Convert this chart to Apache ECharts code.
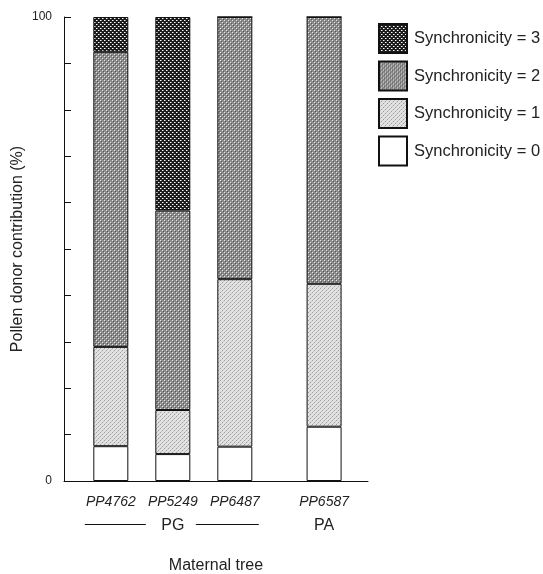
<!DOCTYPE html>
<html>
<head>
<meta charset="utf-8">
<script src="https://cdn.jsdelivr.net/npm/echarts@6/dist/echarts.min.js"></script>
<style>
  html, body { margin: 0; padding: 0; background: #fff; }
  #chart { width: 543px; height: 574px; }
</style>
</head>
<body>
<div id="chart"></div>
<script>
// maternal trees, their position along the x axis and their species group
var trees = ['PP4762', 'PP5249', 'PP6487', 'PP6587'];
var treePos = [1, 2, 3, 4.44];
var groupNames = ['PG', 'PA'];
var groupOf = [0, 0, 0, 1];

// pollen donor contribution (%) by synchronicity class
var sync0 = [7.5, 5.8, 7.4, 11.7];
var sync1 = [21.4, 9.5, 36.1, 30.8];
var sync2 = [63.6, 43.0, 56.5, 57.5];
var sync3 = [7.5, 41.7, 0, 0];

var seriesNames = ['Synchronicity = 0', 'Synchronicity = 1', 'Synchronicity = 2', 'Synchronicity = 3'];
var yTicks = [0, 100];

// small stipple patterns like the printed figure
function pattern(bg, dots) {
  var c = document.createElement('canvas');
  c.width = 4; c.height = 4;
  var ctx = c.getContext('2d');
  ctx.fillStyle = bg;
  ctx.fillRect(0, 0, 4, 4);
  dots.forEach(function(d) {
    ctx.fillStyle = d[2];
    ctx.fillRect(d[0], d[1], 1, 1);
  });
  return { image: c, repeat: 'repeat' };
}

var fills = [
  '#ffffff',
  pattern('#e2e2e2', [[0, 0, '#9c9c9c'], [2, 2, '#9c9c9c'], [1, 3, '#c4c4c4'], [3, 1, '#c4c4c4']]),
  pattern('#8c8c8c', [[0, 0, '#e8e8e8'], [2, 2, '#e8e8e8'], [1, 1, '#5a5a5a'], [3, 3, '#5a5a5a']]),
  pattern('#1c1c1c', [[0, 0, '#ffffff'], [2, 2, '#ffffff'], [1, 0, '#8a8a8a'], [3, 2, '#8a8a8a']])
];

var font = '"Liberation Sans", Arial, Helvetica, sans-serif';
var ink = '#222222';

function pairs(vals) {
  return vals.map(function(v, i) { return [treePos[i], v]; });
}

var chart = echarts.init(document.getElementById('chart'), null, { renderer: 'canvas' });

var series = [sync0, sync1, sync2, sync3].map(function(vals, k) {
  var s = {
    name: seriesNames[k], type: 'bar', stack: 'total', data: pairs(vals),
    barWidth: 35,
    itemStyle: { color: fills[k], borderColor: '#111', borderWidth: 1 },
    emphasis: { disabled: true }
  };
  if (k === 0) {
    s.label = {
      show: true, position: 'bottom', distance: 14,
      color: ink, fontSize: 14, fontStyle: 'italic', fontFamily: font,
      formatter: function(p) { return trees[p.dataIndex]; }
    };
  }
  return s;
});

chart.setOption({
  animation: false,
  textStyle: { fontFamily: font },
  grid: { left: 64, right: 175, top: 17, bottom: 93, containLabel: false, outerBoundsMode: 'none' },
  legend: {
    orient: 'vertical', left: 378, top: 23, padding: 0,
    itemWidth: 28, itemHeight: 29, itemGap: 6.5,
    icon: 'rect',
    data: seriesNames.slice().reverse(),
    textStyle: { color: ink, fontSize: 16.5, fontFamily: font, padding: [0, 0, 0, 2] }
  },
  // time-typed axis used only as a plain numeric position axis, so stacking is done on y;
  // the bar overflow padding ECharts adds widens this range a little
  xAxis: {
    type: 'time', min: 0.527, max: 4.866,
    name: 'Maternal tree', nameLocation: 'middle', nameGap: 77, nameMoveOverlap: false,
    nameTextStyle: { color: ink, fontSize: 16, fontFamily: font },
    axisLine: { show: true, onZero: false, lineStyle: { color: '#111', width: 1 } },
    axisTick: { show: false }, axisLabel: { show: false }, splitLine: { show: false }
  },
  yAxis: {
    type: 'value', min: 0, max: 100, interval: 10,
    name: 'Pollen donor contribution (%)', nameLocation: 'middle', nameGap: 38, nameMoveOverlap: false,
    nameTextStyle: { color: ink, fontSize: 16, fontFamily: font },
    axisLine: { show: true, lineStyle: { color: '#111', width: 1 } },
    axisTick: { show: true, inside: true, length: 7, lineStyle: { color: '#111' } },
    axisLabel: {
      color: ink, fontSize: 12, margin: 12, fontFamily: font,
      formatter: function(v) { return yTicks.indexOf(v) >= 0 ? String(v) : ''; }
    },
    splitLine: { show: false }
  },
  series: series
});

// group labels under the tree names (PG with side rules, PA)
function drawGroups() {
  var els = [];
  var yRow = 526;
  groupNames.forEach(function(g, gi) {
    var idx = [];
    groupOf.forEach(function(v, i) { if (v === gi) idx.push(i); });
    var first = chart.convertToPixel({ xAxisIndex: 0 }, treePos[idx[0]]);
    var last = chart.convertToPixel({ xAxisIndex: 0 }, treePos[idx[idx.length - 1]]);
    var mid = (first + last) / 2;
    els.push({
      type: 'text', x: mid, y: yRow,
      style: { text: g, fill: ink, fontSize: 16, fontFamily: font, align: 'center', verticalAlign: 'middle' }
    });
    if (idx.length > 1) {
      els.push({ type: 'line', shape: { x1: first - 26, y1: yRow - 1.5, x2: mid - 27, y2: yRow - 1.5 }, style: { stroke: '#111', lineWidth: 1 } });
      els.push({ type: 'line', shape: { x1: mid + 23, y1: yRow - 1.5, x2: last + 24, y2: yRow - 1.5 }, style: { stroke: '#111', lineWidth: 1 } });
    }
  });
  chart.setOption({ graphic: { elements: els } });
}
drawGroups();
window.addEventListener('resize', function() { chart.resize(); drawGroups(); });
</script>
</body>
</html>
